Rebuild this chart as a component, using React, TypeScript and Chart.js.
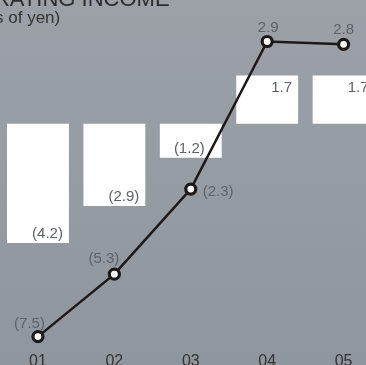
import { useEffect, useRef } from "react";
import { Chart, registerables } from "chart.js";

Chart.register(...registerables);

const categories = ["01", "02", "03", "04", "05"];
const barValues = [-4.2, -2.9, -1.2, 1.7, 1.7];
const lineValues = [-7.5, -5.3, -2.3, 2.9, 2.8];
const barLabels = ["(4.2)", "(2.9)", "(1.2)", "1.7", "1.7"];
const lineLabels = ["(7.5)", "(5.3)", "(2.3)", "2.9", "2.8"];
const titleText = "OPERATING INCOME";
const subtitleText = "(Billions of yen)";

// label placement offsets (styling only)
const barLabelDx = [-6, -6, -17, -6, -6];
const lineLabelPos: { align: CanvasTextAlign; dx: number; dy: number }[] = [
  { align: "right", dx: 7, dy: -9 },
  { align: "right", dx: 5, dy: -11 },
  { align: "left", dx: 12, dy: 7 },
  { align: "center", dx: 1, dy: -10 },
  { align: "center", dx: 0, dy: -10 },
];

const FONT = "'Liberation Sans', Arial, Helvetica, sans-serif";
const CANVAS_LEFT = -58;
const CANVAS_W = 448;
const CANVAS_H = 372;

export default function App() {
  const ref = useRef<HTMLCanvasElement | null>(null);

  useEffect(() => {
    const canvas = ref.current;
    if (!canvas) return;

    const bgPlugin = {
      id: "bg",
      beforeDraw(chart: any) {
        const { ctx, width, height } = chart;
        ctx.save();
        const g = ctx.createLinearGradient(0, 0, 0, height);
        g.addColorStop(0, "#9ba1a7");
        g.addColorStop(1, "#8f969d");
        ctx.fillStyle = g;
        ctx.fillRect(0, 0, width, height);
        ctx.restore();
      },
    };

    const textPlugin = {
      id: "texts",
      afterDraw(chart: any) {
        const ctx = chart.ctx;
        ctx.save();
        ctx.textBaseline = "alphabetic";
        ctx.textAlign = "left";
        ctx.fillStyle = "#2c2c2c";
        ctx.font = `22px ${FONT}`;
        ctx.fillText(titleText, 5.5, 6);
        ctx.fillStyle = "#333333";
        ctx.font = `17px ${FONT}`;
        ctx.fillText(subtitleText, 2, 23);
        ctx.restore();
      },
      afterDatasetsDraw(chart: any) {
        const ctx = chart.ctx;
        ctx.save();
        ctx.font = `15px ${FONT}`;
        ctx.fillStyle = "#5e6267";
        ctx.textBaseline = "alphabetic";
        const barMeta = chart.getDatasetMeta(0);
        barMeta.data.forEach((el: any, i: number) => {
          const right = el.x + el.width / 2 + barLabelDx[i];
          ctx.textAlign = "right";
          if (barValues[i] < 0) {
            ctx.fillText(barLabels[i], right, el.y - 5);
          } else {
            ctx.fillText(barLabels[i], right, el.y + 16);
          }
        });
        const lineMeta = chart.getDatasetMeta(1);
        lineMeta.data.forEach((el: any, i: number) => {
          const p = lineLabelPos[i];
          ctx.textAlign = p.align;
          ctx.fillText(lineLabels[i], el.x + p.dx, el.y + p.dy);
        });
        ctx.restore();
      },
    };

    const chart = new Chart(canvas, {
      type: "bar",
      data: {
        labels: categories,
        datasets: [
          {
            type: "bar",
            data: barValues,
            backgroundColor: "#ffffff",
            borderWidth: 0,
            barPercentage: 0.81,
            categoryPercentage: 1,
            order: 2,
          } as any,
          {
            type: "line",
            data: lineValues,
            borderColor: "#1d1919",
            borderWidth: 2.5,
            pointRadius: 5,
            pointBorderWidth: 3.2,
            pointBackgroundColor: "#ffffff",
            pointBorderColor: "#1d1919",
            tension: 0,
            order: 1,
          } as any,
        ],
      },
      options: {
        responsive: false,
        animation: false,
        devicePixelRatio: 1,
        layout: { padding: { top: 10.3, left: 57.75, right: 0, bottom: 0 } },
        plugins: { legend: { display: false }, tooltip: { enabled: false }, title: { display: false } },
        scales: {
          x: {
            offset: true,
            grid: { display: false, drawTicks: false },
            border: { display: false },
            ticks: { color: "#333333", font: { size: 16, family: FONT }, padding: 1 },
          },
          y: {
            display: false,
            min: -8,
            max: 4,
          },
        },
      },
      plugins: [bgPlugin, textPlugin],
    });

    return () => chart.destroy();
  }, []);

  return (
    <div
      style={{
        position: "fixed",
        left: 0,
        top: 0,
        width: 366,
        height: 365,
        overflow: "hidden",
      }}
    >
      <canvas
        ref={ref}
        width={CANVAS_W}
        height={CANVAS_H}
        style={{ position: "absolute", left: CANVAS_LEFT, top: 0, width: CANVAS_W, height: CANVAS_H }}
      />
    </div>
  );
}
